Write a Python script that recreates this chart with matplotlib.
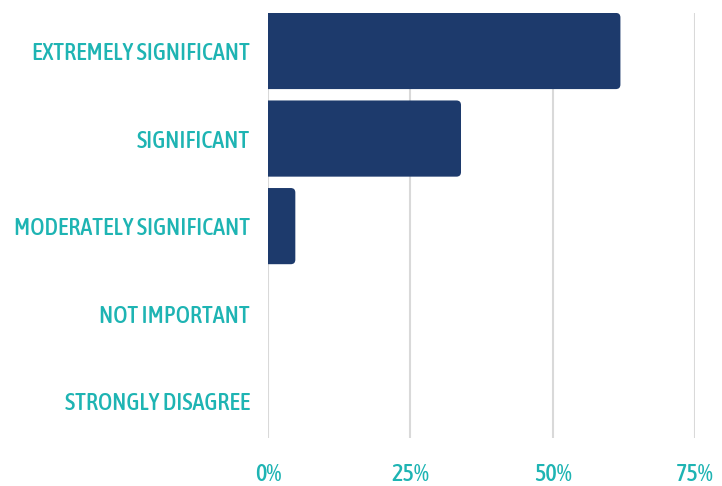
import matplotlib
matplotlib.use("Agg")
import matplotlib.pyplot as plt
from matplotlib import font_manager as fm
from matplotlib.patches import FancyBboxPatch

categories = [
    "EXTREMELY SIGNIFICANT",
    "SIGNIFICANT",
    "MODERATELY SIGNIFICANT",
    "NOT IMPORTANT",
    "STRONGLY DISAGREE",
]
values = [61.9, 33.9, 4.8, 0, 0]
x_ticks = [0, 25, 50, 75]
x_tick_labels = ["0%", "25%", "50%", "75%"]

BAR_COLOR = "#1d3a6c"
TEXT_COLOR = "#1eb4b3"
GRID_COLOR = "#d9d9d9"


def narrow_font():
    """Pick a condensed sans face if one is installed."""
    stretch_rank = {
        "ultra-condensed": 0, "extra-condensed": 1, "condensed": 2,
        "semi-condensed": 3,
    }
    best = None
    for f in fm.fontManager.ttflist:
        if f.style != "normal":
            continue
        st = str(f.stretch)
        if st.isdigit():
            st_val = int(st)
            rank = 0 if st_val <= 200 else 2 if st_val <= 400 else None
        else:
            rank = stretch_rank.get(st)
        if rank is None and ("Narrow" in f.name or "Condensed" in f.name):
            rank = 2
        if rank is None:
            continue
        w = f.weight if isinstance(f.weight, int) else fm.weight_dict.get(f.weight, 400)
        if w < 400 or w > 600:
            continue
        key = (rank, abs(w - 500))
        if best is None or key < best[0]:
            best = (key, f.fname)
    if best is None:
        return fm.FontProperties(family="DejaVu Sans", stretch="condensed")
    return fm.FontProperties(fname=best[1])


label_font = narrow_font()
label_font.set_size(17.5)

fig = plt.figure(figsize=(7.22, 4.86), dpi=100)
ax = fig.add_axes([268 / 722, 1 - 438 / 486, (695 - 268) / 722, (438 - 13) / 486])

ypos = list(range(len(categories)))
bars = ax.barh(ypos, values, height=0.87, color=BAR_COLOR)

# swap the plain rectangles for right-rounded boxes (left corners clipped at x=0)
for rect in bars:
    w = rect.get_width()
    rect.set_visible(False)
    if w <= 0:
        continue
    x0, y0, h = rect.get_x(), rect.get_y(), rect.get_height()
    box = FancyBboxPatch(
        (x0 - 2, y0), w + 2, h,
        boxstyle="round,pad=0,rounding_size=0.8",
        mutation_aspect=0.0115 / 0.176,
        facecolor=BAR_COLOR, edgecolor="none", zorder=2,
    )
    ax.add_patch(box)

ax.set_xlim(0, 75)
ax.set_ylim(4.42, -0.434)
ax.set_xticks(x_ticks)
ax.set_xticklabels(x_tick_labels, fontproperties=label_font)
ax.set_yticks(ypos)
ax.set_yticklabels(categories, fontproperties=label_font)

ax.grid(axis="x", color=GRID_COLOR, linewidth=1.5, zorder=0)
ax.set_axisbelow(True)
for s in ax.spines.values():
    s.set_visible(False)
ax.tick_params(axis="both", length=0, labelcolor=TEXT_COLOR)
ax.tick_params(axis="x", pad=18)
ax.tick_params(axis="y", pad=13)

fig.savefig("out.png", dpi=100, facecolor="white")
